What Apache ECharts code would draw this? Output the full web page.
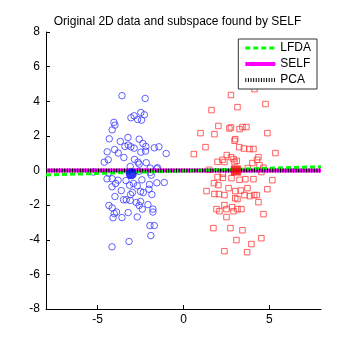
<!DOCTYPE html>
<html>
<head>
<meta charset="utf-8">
<script src="https://cdn.jsdelivr.net/npm/echarts@6/dist/echarts.min.js"></script>
<style>html,body{margin:0;padding:0;background:#fff;}#c{width:355px;height:355px;}</style>
</head>
<body>
<div id="c"></div>
<script>
var titleText = 'Original 2D data and subspace found by SELF';
var xTicks = [-5, 0, 5];
var yTicks = [-8, -6, -4, -2, 0, 2, 4, 6, 8];
var classA = [
 [-3.58,4.32],[-2.23,4.16],[-2.48,3.35],[-2.28,3.22],[-2.87,3.16],[-3.06,3.05],[-2.67,2.95],[-2.44,2.91],
 [-4.05,2.78],[-3.99,2.62],[-4.15,2.35],[-4.32,1.83],[-3.23,1.91],[-2.58,1.81],[-3.68,1.68],[-2.36,1.56],
 [-3.41,1.39],[-3.22,1.47],[-3.06,1.37],[-2.87,1.29],[-4.01,1.21],[-2.19,1.39],[-1.70,1.31],[-1.43,1.37],
 [-3.80,1.01],[-4.44,1.08],[-2.48,1.06],[-2.21,1.12],[-1.01,0.98],[-3.47,0.75],[-2.85,0.64],[-4.38,0.62],
 [-4.61,0.48],[-2.65,0.48],[-2.58,0.37],[-2.17,0.45],[-3.10,0.23],[-1.94,0.14],[-1.51,0.16],
 [-5.23,-0.09],[-4.36,-0.15],[-1.55,0.10],[-1.94,-0.12],[-2.60,-0.05],
 [-4.45,-0.48],[-4.15,-0.48],[-3.81,-0.56],[-3.35,-0.58],[-2.42,-0.54],[-1.88,-0.27],[-3.95,-0.75],[-4.16,-0.94],
 [-3.14,-0.85],[-2.91,-0.75],[-2.69,-0.88],[-1.98,-0.81],[-1.55,-0.71],[-1.12,-0.69],[-3.62,-1.16],[-2.97,-1.27],
 [-2.50,-1.21],[-2.34,-1.27],[-2.01,-1.08],[-1.84,-1.39],[-3.08,-1.39],[-3.99,-1.50],[-3.49,-1.69],[-3.33,-1.69],
 [-3.10,-1.73],[-2.75,-1.85],[-2.50,-1.79],[-2.58,-2.02],[-2.07,-1.97],[-4.34,-2.02],[-4.15,-2.16],[-2.40,-2.23],
 [-1.78,-2.23],[-1.78,-2.40],[-3.90,-2.40],[-4.03,-2.49],[-3.22,-2.43],[-4.10,-2.73],[-3.58,-2.72],[-2.69,-2.68],
 [-1.95,-3.18],[-1.70,-3.18],[-1.90,-3.76],[-3.17,-4.10],[-4.16,-4.41]
];
var classB = [
 [4.13,4.70],[2.76,4.36],[4.77,3.84],[3.14,3.66],[1.63,3.49],[2.03,2.57],[2.67,2.43],[2.76,2.49],
 [3.43,2.51],[3.66,2.51],[3.26,2.39],[0.99,2.16],[1.80,2.10],[4.88,2.16],[3.01,1.81],[2.97,1.72],
 [1.28,1.35],[3.24,1.35],[3.51,1.27],[3.84,1.24],[4.07,1.24],[0.60,0.95],[5.35,1.01],[2.52,0.89],
 [4.36,0.77],[4.28,0.62],[1.98,0.50],[2.27,0.62],[2.38,0.49],[2.77,0.77],[2.91,0.66],[3.10,0.56],
 [2.97,0.49],[4.01,0.43],[4.42,0.31],[4.65,0.16],[1.49,0.04],[3.74,0.14],
 [2.29,-0.19],[1.98,-0.38],[2.29,-0.42],[2.79,-0.44],[3.26,-0.54],[3.60,-0.50],[4.07,-0.50],[5.17,-0.56],
 [4.53,-0.09],[1.77,-0.73],[2.03,-0.84],[2.62,-1.02],[3.72,-1.02],[4.88,-1.08],[1.34,-1.19],[3.01,-1.19],
 [3.34,-1.16],[1.80,-1.36],[2.06,-1.36],[2.38,-1.42],[3.55,-1.42],[3.86,-1.48],[4.11,-1.42],[4.27,-1.42],
 [3.01,-1.60],[3.14,-1.65],[4.36,-1.83],[2.38,-2.00],[2.83,-2.12],[1.92,-2.23],[2.09,-2.35],[2.50,-2.23],
 [2.91,-2.35],[3.14,-2.23],[3.37,-2.23],[4.65,-2.52],[2.50,-2.69],[1.74,-3.33],[2.73,-3.33],[3.43,-3.45],
 [4.53,-3.91],[3.08,-4.02],[3.95,-4.25],[2.38,-4.66],[3.70,-4.72]
];
var centerA = [[-3.04,-0.19]];
var centerB = [[3.05,0.0]];
var lineX = [-8, 8];
var lfdaY = [-0.26, 0.22];
var selfY = [0, 0];
var pcaY = [0, 0];

function pts(xs, ys){ return xs.map(function(x,i){return [x, ys[i]];}); }

var font = 'Liberation Sans, Arial, Helvetica, sans-serif';
var chart = echarts.init(document.getElementById('c'), null, {renderer:'canvas'});
chart.setOption({
  animation: false,
  backgroundColor: '#fff',
  title: {text: titleText, left: 'center', top: 11,
    textStyle: {fontSize: 12, fontWeight: 'normal', color: '#000', fontFamily: font}},
  grid: {left: 46, right: 34, top: 32, bottom: 46},
  legend: {
    orient: 'vertical', right: 38, top: 39, itemWidth: 30, itemHeight: 10, itemGap: 4,
    backgroundColor: '#fff', borderColor: '#333', borderWidth: 1, borderRadius: 0, padding: [3, 6, 3, 5],
    textStyle: {fontSize: 12, color: '#000', fontFamily: font},
    itemStyle: {opacity: 0},
    lineStyle: {width: 'inherit'},
    data: ['LFDA', 'SELF', 'PCA']
  },
  xAxis: {type: 'value', min: -8, max: 8, splitLine: {show: false},
    axisLine: {onZero: false, lineStyle: {color: '#000'}},
    axisTick: {inside: true, length: 4, customValues: xTicks, lineStyle: {color: '#000'}},
    axisLabel: {customValues: xTicks, color: '#000', fontSize: 12, fontFamily: font, margin: 5}},
  yAxis: {type: 'value', min: -8, max: 8, interval: 2, splitLine: {show: false},
    axisLine: {onZero: false, lineStyle: {color: '#000'}},
    axisTick: {inside: true, length: 4, lineStyle: {color: '#000'}},
    axisLabel: {color: '#000', fontSize: 12, fontFamily: font, margin: 6}},
  series: [
    {name: 'A', type: 'scatter', data: classA, symbol: 'circle', symbolSize: 6.5, z: 2,
      itemStyle: {color: 'rgba(0,0,0,0)', borderColor: '#3a3aff', borderWidth: 1}},
    {name: 'B', type: 'scatter', data: classB, symbol: 'rect', symbolSize: 5.5, z: 2,
      itemStyle: {color: 'rgba(0,0,0,0)', borderColor: '#ff3a3a', borderWidth: 1}},
    {name: 'SELF', type: 'line', data: pts(lineX, selfY), symbol: 'none', z: 3,
      lineStyle: {color: '#ff00ff', width: 4}, itemStyle: {color: '#ff00ff'}},
    {name: 'LFDA', type: 'line', data: pts(lineX, lfdaY), symbol: 'none', z: 4,
      lineStyle: {color: '#00ff00', width: 3, type: [5, 3]}, itemStyle: {color: '#00ff00'}},
    {name: 'PCA', type: 'line', data: pts(lineX, pcaY), symbol: 'none', z: 5,
      lineStyle: {color: '#000', width: 4, type: [1, 1.6]}, itemStyle: {color: '#000'}},
    {name: 'cA', type: 'scatter', data: centerA, symbol: 'circle', symbolSize: 11, z: 6,
      itemStyle: {color: '#0000ff'}},
    {name: 'cB', type: 'scatter', data: centerB, symbol: 'rect', symbolSize: 10, z: 6,
      itemStyle: {color: '#ff0000'}}
  ]
});
</script>
</body>
</html>
